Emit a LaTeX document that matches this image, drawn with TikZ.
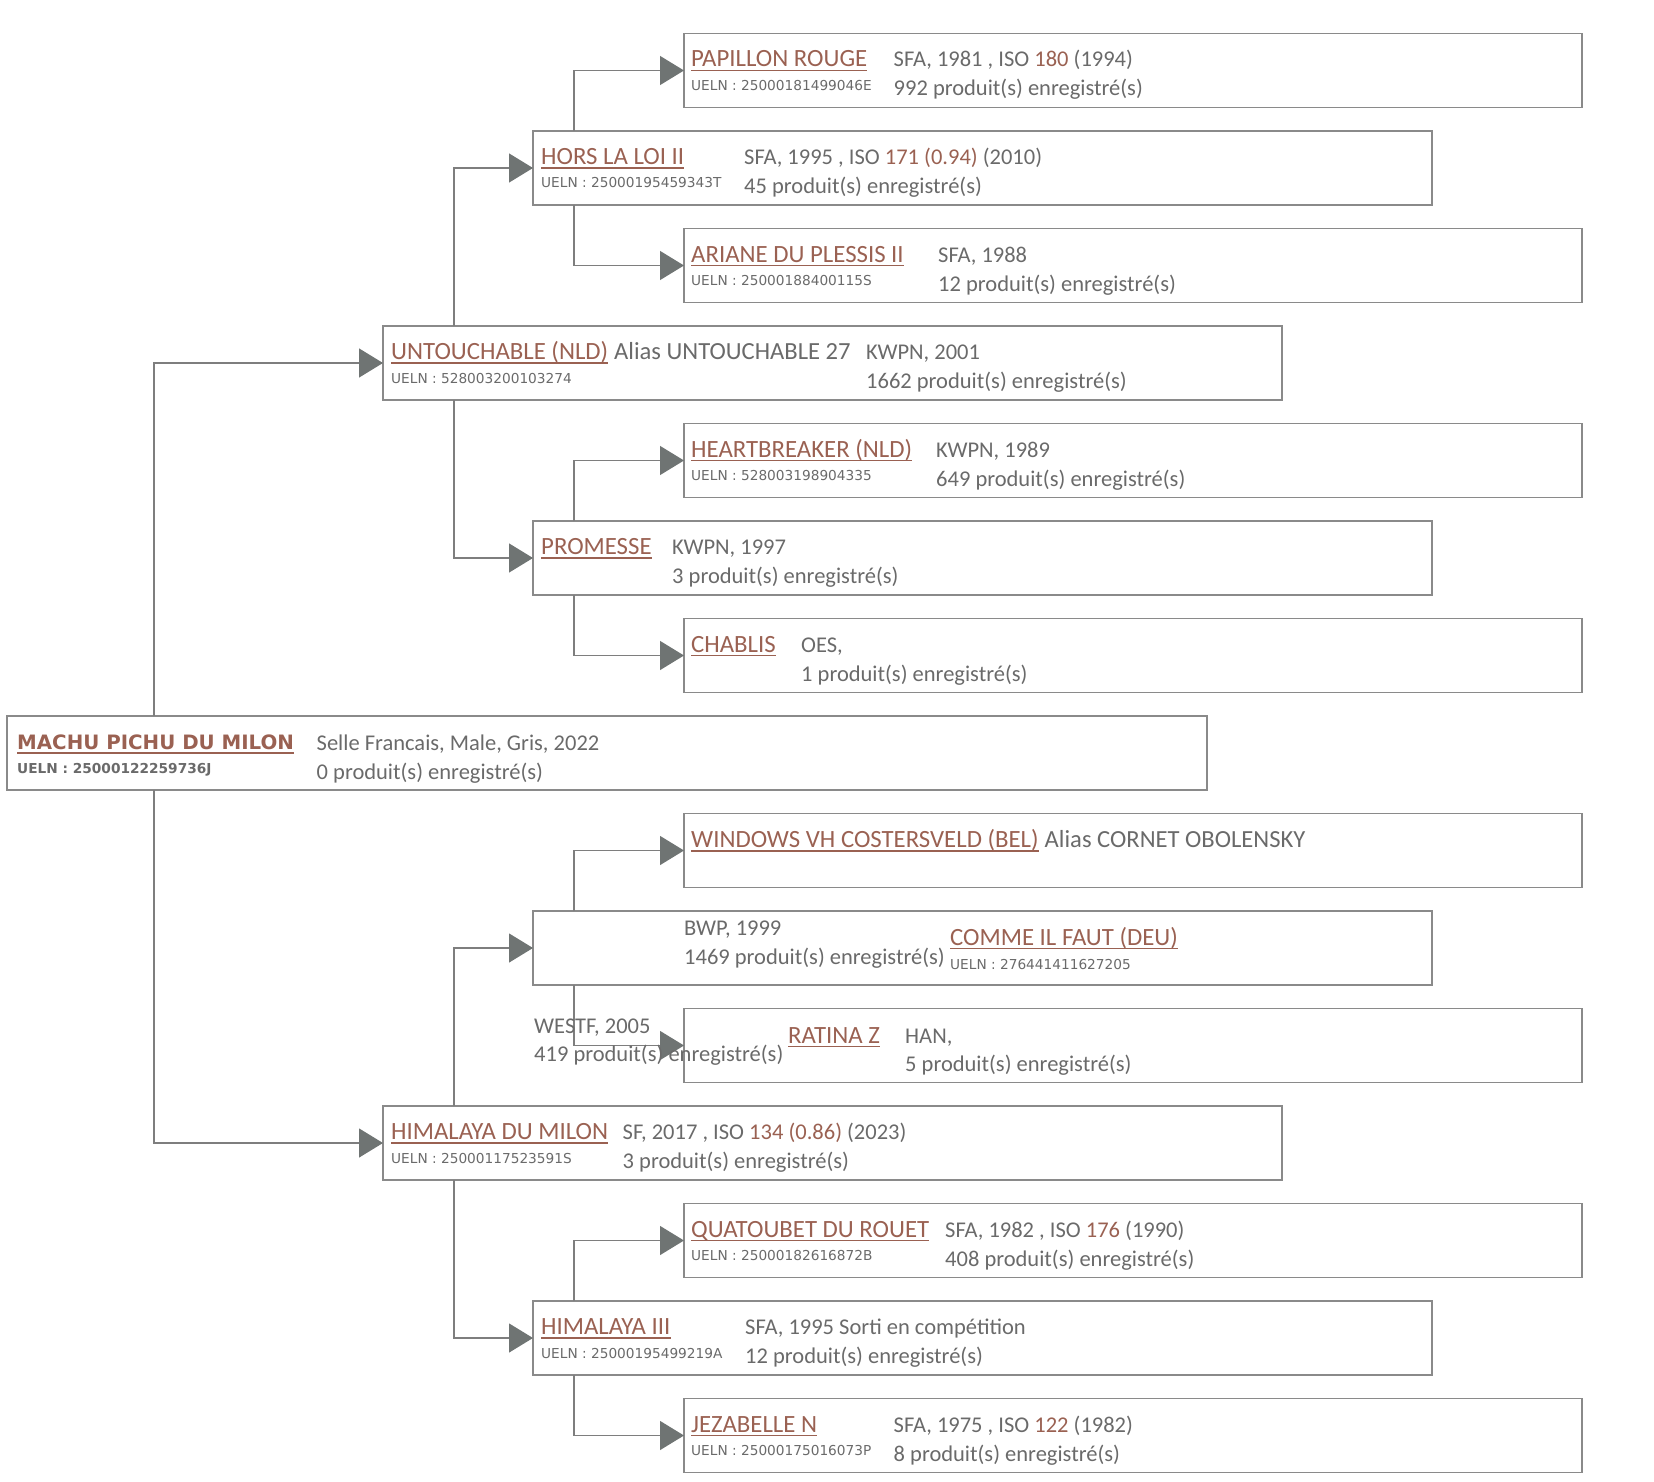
\documentclass[tikz,border=0pt]{standalone}
\usepackage{fontspec}
\setmainfont{Carlito}
\newfontfamily\uelnfont{DejaVu Sans}
\usetikzlibrary{arrows.meta}
\definecolor{txtc}{HTML}{6A6A6A}
\definecolor{lnkc}{HTML}{9A6152}
\definecolor{bordc}{HTML}{8A8A8A}
\definecolor{linec}{HTML}{7E7E7E}
\definecolor{arrc}{HTML}{6F7473}
\tikzset{
  horsebox/.style={draw=bordc, line width=1.3pt, minimum width=#1, minimum height=74pt, inner sep=0pt, outer sep=0pt, anchor=north west},
  conn/.style={draw=linec, line width=1.3pt, -{Triangle[length=24pt,width=29pt,color=arrc]}},
  nm/.style={anchor=base west, inner sep=0pt, text=lnkc, font=\fontsize{24.8}{28}\selectfont},
  nmbold/.style={anchor=base west, inner sep=0pt, text=lnkc, font=\uelnfont\bfseries\fontsize{19.8}{24}\selectfont},
  alias/.style={anchor=base west, inner sep=0pt, text=txtc, font=\fontsize{24.6}{28}\selectfont},
  info/.style={anchor=base west, inner sep=0pt, text=txtc, font=\fontsize{22.5}{27}\selectfont},
  ueln/.style={anchor=base west, inner sep=0pt, text=txtc, font=\uelnfont\fontsize{13.7}{16}\selectfont},
  uelnbold/.style={anchor=base west, inner sep=0pt, text=txtc, font=\uelnfont\bfseries\fontsize{13.7}{16}\selectfont},
  ul/.style={draw=lnkc, line width=1.4pt}
}
\newcommand\hname[5][nm]{%
  \node[#1] (#2) at (#3,#4) {#5};
  \draw[ul] ([yshift=-3.5pt]#2.base west) -- ([yshift=-3.5pt]#2.base east);}
\newcommand\lk[1]{\textcolor{lnkc}{#1}}
\begin{document}
\begin{tikzpicture}[x=1pt,y=-1pt]
\useasboundingbox (0,0) rectangle (1654,1482);
% boxes
\node[horsebox=898pt] (b0) at (684,33.5) {};
\node[horsebox=899pt] (b1) at (533,131) {};
\node[horsebox=898pt] (b2) at (684,228.5) {};
\node[horsebox=899pt] (b3) at (383,326) {};
\node[horsebox=898pt] (b4) at (684,423.5) {};
\node[horsebox=899pt] (b5) at (533,521) {};
\node[horsebox=898pt] (b6) at (684,618.5) {};
\node[horsebox=1200pt] (b7) at (7,716) {};
\node[horsebox=898pt] (b8) at (684,813.5) {};
\node[horsebox=899pt] (b9) at (533,911) {};
\node[horsebox=898pt] (b10) at (684,1008.5) {};
\node[horsebox=899pt] (b11) at (383,1106) {};
\node[horsebox=898pt] (b12) at (684,1203.5) {};
\node[horsebox=899pt] (b13) at (533,1301) {};
\node[horsebox=898pt] (b14) at (684,1398.5) {};
% vertical line positions
\coordinate (v0) at (154,0);
\coordinate (v1) at (454,0);
\coordinate (v2) at (574,0);
% connectors
\draw[conn] (b7.north -| v0) |- (b3.west);
\draw[conn] (b7.south -| v0) |- (b11.west);
\draw[conn] (b3.north -| v1) |- (b1.west);
\draw[conn] (b3.south -| v1) |- (b5.west);
\draw[conn] (b11.north -| v1) |- (b9.west);
\draw[conn] (b11.south -| v1) |- (b13.west);
\draw[conn] (b1.north -| v2) |- (b0.west);
\draw[conn] (b1.south -| v2) |- (b2.west);
\draw[conn] (b5.north -| v2) |- (b4.west);
\draw[conn] (b5.south -| v2) |- (b6.west);
\draw[conn] (b9.north -| v2) |- (b8.west);
\draw[conn] (b9.south -| v2) |- (b10.west);
\draw[conn] (b13.north -| v2) |- (b12.west);
\draw[conn] (b13.south -| v2) |- (b14.west);
% row 0
\hname{n0}{691}{67}{PAPILLON ROUGE}
\node[ueln] (u0) at (691,90.5) {UELN : 25000181499046E};
\node[info] (i0a) at (893.5,67) {SFA, 1981 , ISO \lk{180} (1994)};
\node[info] (i0b) at (893.5,96) {992 produit(s) enregistré(s)};
% row 1
\hname{n1}{541}{164.5}{HORS LA LOI II}
\node[ueln] (u1) at (541,188) {UELN : 25000195459343T};
\node[info] (i1a) at (744,164.5) {SFA, 1995 , ISO \lk{171 (0.94)} (2010)};
\node[info] (i1b) at (744,193.5) {45 produit(s) enregistré(s)};
% row 2
\hname{n2}{691}{262}{ARIANE DU PLESSIS II}
\node[ueln] (u2) at (691,285.5) {UELN : 25000188400115S};
\node[info] (i2a) at (938,262) {SFA, 1988};
\node[info] (i2b) at (938,291) {12 produit(s) enregistré(s)};
% row 3
\hname{n3}{391}{359.5}{UNTOUCHABLE (NLD)}
\node[alias] (a3) at (n3.base east) {~Alias UNTOUCHABLE 27};
\node[ueln] (u3) at (391,383) {UELN : 528003200103274};
\node[info] (i3a) at (866,359.5) {KWPN, 2001};
\node[info] (i3b) at (866,388.5) {1662 produit(s) enregistré(s)};
% row 4
\hname{n4}{691}{457}{HEARTBREAKER (NLD)}
\node[ueln] (u4) at (691,480.5) {UELN : 528003198904335};
\node[info] (i4a) at (936,457) {KWPN, 1989};
\node[info] (i4b) at (936,486) {649 produit(s) enregistré(s)};
% row 5
\hname{n5}{541}{554.5}{PROMESSE}
\node[info] (i5a) at (672,554.5) {KWPN, 1997};
\node[info] (i5b) at (672,583.5) {3 produit(s) enregistré(s)};
% row 6
\hname{n6}{691}{652}{CHABLIS}
\node[info] (i6a) at (801,652) {OES,};
\node[info] (i6b) at (801,681) {1 produit(s) enregistré(s)};
% row 7
\hname[nmbold]{n7}{17}{749.5}{MACHU PICHU DU MILON}
\node[uelnbold] (u7) at (17,773.5) {UELN : 25000122259736J};
\node[info] (i7a) at (316.5,750.5) {Selle Francais, Male, Gris, 2022};
\node[info] (i7b) at (316.5,779.5) {0 produit(s) enregistré(s)};
% row 8
\hname{n8}{691}{847.5}{WINDOWS VH COSTERSVELD (BEL)}
\node[alias] (a8) at (n8.base east) {~Alias CORNET OBOLENSKY};
% row 9
\node[info] (i8a) at (684,935) {BWP, 1999};
\node[info] (i8b) at (684,964) {1469 produit(s) enregistré(s)};
\hname{n9}{950}{945}{COMME IL FAUT (DEU)}
\node[ueln] (u9) at (950,969.5) {UELN : 276441411627205};
% row 10
\node[info] (i9a) at (534,1033) {WESTF, 2005};
\node[info] (i9b) at (534,1061) {419 produit(s) enregistré(s)};
\hname{n10}{788}{1043}{RATINA Z}
\node[info] (i10a) at (905,1043) {HAN,};
\node[info] (i10b) at (905,1071) {5 produit(s) enregistré(s)};
% row 11
\hname{n11}{391}{1139.5}{HIMALAYA DU MILON}
\node[ueln] (u11) at (391,1163) {UELN : 25000117523591S};
\node[info] (i11a) at (622.5,1139.5) {SF, 2017 , ISO \lk{134 (0.86)} (2023)};
\node[info] (i11b) at (622.5,1168.5) {3 produit(s) enregistré(s)};
% row 12
\hname{n12}{691}{1237}{QUATOUBET DU ROUET}
\node[ueln] (u12) at (691,1260.5) {UELN : 25000182616872B};
\node[info] (i12a) at (945,1237) {SFA, 1982 , ISO \lk{176} (1990)};
\node[info] (i12b) at (945,1266) {408 produit(s) enregistré(s)};
% row 13
\hname{n13}{541}{1334.5}{HIMALAYA III}
\node[ueln] (u13) at (541,1358) {UELN : 25000195499219A};
\node[info] (i13a) at (745,1334.5) {SFA, 1995 Sorti en compétition};
\node[info] (i13b) at (745,1363.5) {12 produit(s) enregistré(s)};
% row 14
\hname{n14}{691}{1432}{JEZABELLE N}
\node[ueln] (u14) at (691,1455.5) {UELN : 25000175016073P};
\node[info] (i14a) at (893.5,1432) {SFA, 1975 , ISO \lk{122} (1982)};
\node[info] (i14b) at (893.5,1461) {8 produit(s) enregistré(s)};
\end{tikzpicture}
\end{document}
